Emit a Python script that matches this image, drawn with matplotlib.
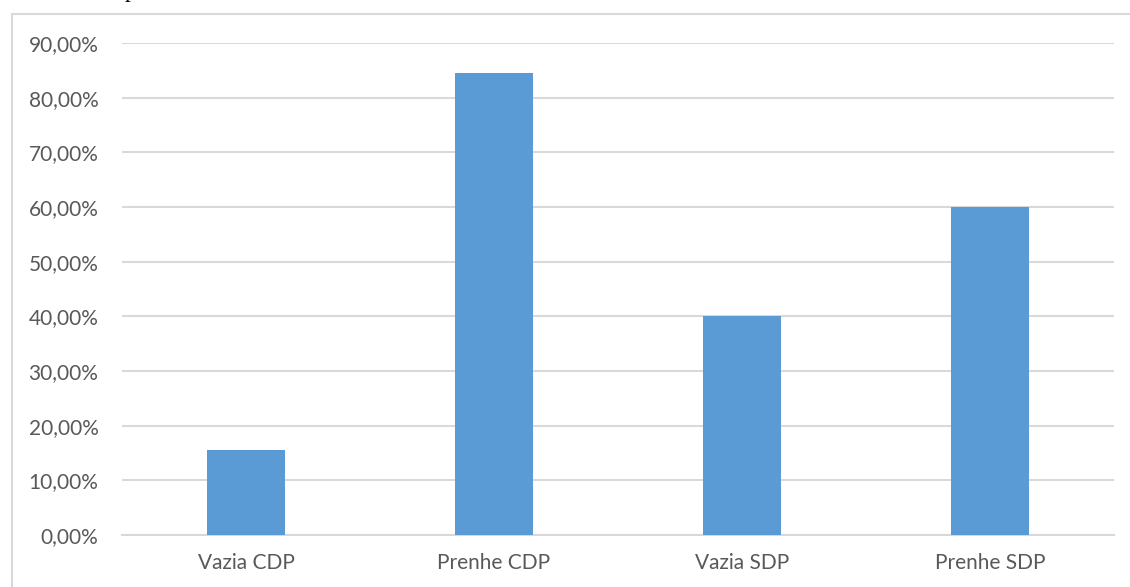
import matplotlib
matplotlib.use("Agg")
import matplotlib.pyplot as plt
from matplotlib.patches import Rectangle

categories = ["Vazia CDP", "Prenhe CDP", "Vazia SDP", "Prenhe SDP"]
values = [15.5, 84.5, 40.0, 60.0]
yticks = [0, 10, 20, 30, 40, 50, 60, 70, 80, 90]
ytick_labels = ["0,00%", "10,00%", "20,00%", "30,00%", "40,00%",
                "50,00%", "60,00%", "70,00%", "80,00%", "90,00%"]

W, H = 1130, 587
fig = plt.figure(figsize=(W / 100, H / 100), dpi=100)
fig.patch.set_facecolor("white")

# outer chart frame (light gray), open at right/bottom edges
frame = Rectangle((11.5 / W, -0.05), 1.2, (H - 13.5) / H + 0.05,
                  transform=fig.transFigure, fill=False,
                  edgecolor="#d9d9d9", linewidth=1.5, zorder=0)
fig.patches.append(frame)

# caption fragment running off the top edge
fig.text(125 / W, 1 + 2.5 / H, "p", family="Liberation Serif", fontsize=17,
         color="black", va="baseline", ha="left")

ax = fig.add_axes([122 / W, 52 / H, (1114 - 122) / W, (535 - 43) / H])
x = range(len(categories))
ax.bar(x, values, width=0.315, color="#5b9bd5", zorder=3)

ax.set_xlim(-0.5, len(categories) - 0.5)
ax.set_ylim(0, 90)
ax.set_yticks(yticks)
ax.set_yticklabels(ytick_labels)
ax.set_xticks(list(x))
ax.set_xticklabels(categories)

for spine in ["top", "right", "left"]:
    ax.spines[spine].set_visible(False)
ax.spines["bottom"].set_color("#d9d9d9")
ax.spines["bottom"].set_linewidth(1.5)
ax.spines["bottom"].set_zorder(2)

ax.grid(axis="y", color="#d9d9d9", linewidth=1.5, zorder=1)
ax.set_axisbelow(True)
ax.tick_params(axis="both", length=0, colors="#595959", labelsize=15)
ax.tick_params(axis="y", pad=17)
ax.tick_params(axis="x", pad=13)
for lbl in ax.get_xticklabels() + ax.get_yticklabels():
    lbl.set_family("Lato")
    lbl.set_color("#595959")

fig.savefig("out.png", dpi=100, facecolor="white")
